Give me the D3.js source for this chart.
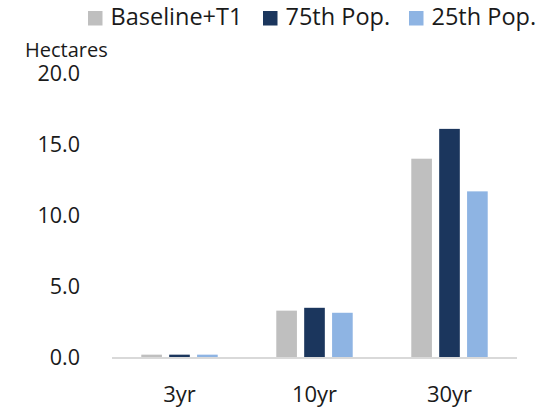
<!DOCTYPE html>
<html>
<head>
<meta charset="utf-8">
<script src="https://cdn.jsdelivr.net/npm/d3@7/dist/d3.min.js"></script>
<style>
  html, body { margin: 0; padding: 0; background: #fff; }
  text { font-family: "Open Sans", "Noto Sans", sans-serif; fill: #1a1a1a; }
</style>
</head>
<body>
<svg id="chart" width="547" height="411"></svg>
<script>
// Area projections by horizon (hectares)
const categories = ["3yr", "10yr", "30yr"];
const seriesNames = ["Baseline+T1", "75th Pop.", "25th Pop."];
const baseline = [0.2, 3.3, 14.0];
const pop75 = [0.2, 3.5, 16.1];
const pop25 = [0.2, 3.15, 11.7];
const yTicks = [0, 5, 10, 15, 20];
const colors = ["#bfbfbf", "#1b365d", "#8eb4e3"];

const seriesValues = [baseline, pop75, pop25];

const svg = d3.select("#chart");
const x0 = 112, x1 = 517, yBase = 357.5, yTop = 73.5;

const x = d3.scaleBand().domain(categories).range([x0, x1]).paddingInner(0).paddingOuter(0);
const inner = d3.scaleBand().domain(seriesNames).range([0, x.bandwidth()])
  .paddingInner(0.26).paddingOuter(1.05);
const y = d3.scaleLinear().domain([0, 20]).range([yBase, yTop]);

// bars
categories.forEach((c, ci) => {
  const g = svg.append("g").attr("transform", `translate(${x(c)},0)`);
  seriesNames.forEach((s, si) => {
    const v = seriesValues[si][ci];
    g.append("rect")
      .attr("x", inner(s))
      .attr("width", inner.bandwidth())
      .attr("y", y(v))
      .attr("height", yBase - y(v))
      .attr("fill", colors[si]);
  });
});

// baseline axis line
svg.append("line")
  .attr("x1", x0).attr("x2", x1)
  .attr("y1", yBase + 0.5).attr("y2", yBase + 0.5)
  .attr("stroke", "#d9d9d9").attr("stroke-width", 2);

// y tick labels
const yAxis = d3.axisLeft(y).tickValues(yTicks).tickFormat(d3.format(".1f")).tickSize(0).tickPadding(0);
const ya = svg.append("g").attr("transform", "translate(80,0)").call(yAxis);
ya.select(".domain").remove();
ya.selectAll("text").attr("font-size", 21.5).attr("font-family", "Open Sans")
  .attr("fill", "#1a1a1a").attr("dy", "0.31em");

// x tick labels
const xAxis = d3.axisBottom(x).tickSize(0).tickPadding(0);
const xa = svg.append("g").attr("transform", "translate(0,402)").call(xAxis);
xa.select(".domain").remove();
xa.selectAll("text").attr("font-size", 22).attr("font-family", "Open Sans")
  .attr("fill", "#1a1a1a").attr("y", 0).attr("dy", 0);

// unit label
svg.append("text").attr("x", 25).attr("y", 56.5).attr("font-size", 20).text("Hectares");

// legend
const legendX = [88, 263, 409];
seriesNames.forEach((s, i) => {
  svg.append("rect").attr("x", legendX[i]).attr("y", 11).attr("width", 14.5).attr("height", 14.5).attr("fill", colors[i]);
  svg.append("text").attr("x", legendX[i] + 22.5).attr("y", 25).attr("font-size", 23.5).text(s);
});
</script>
</body>
</html>
